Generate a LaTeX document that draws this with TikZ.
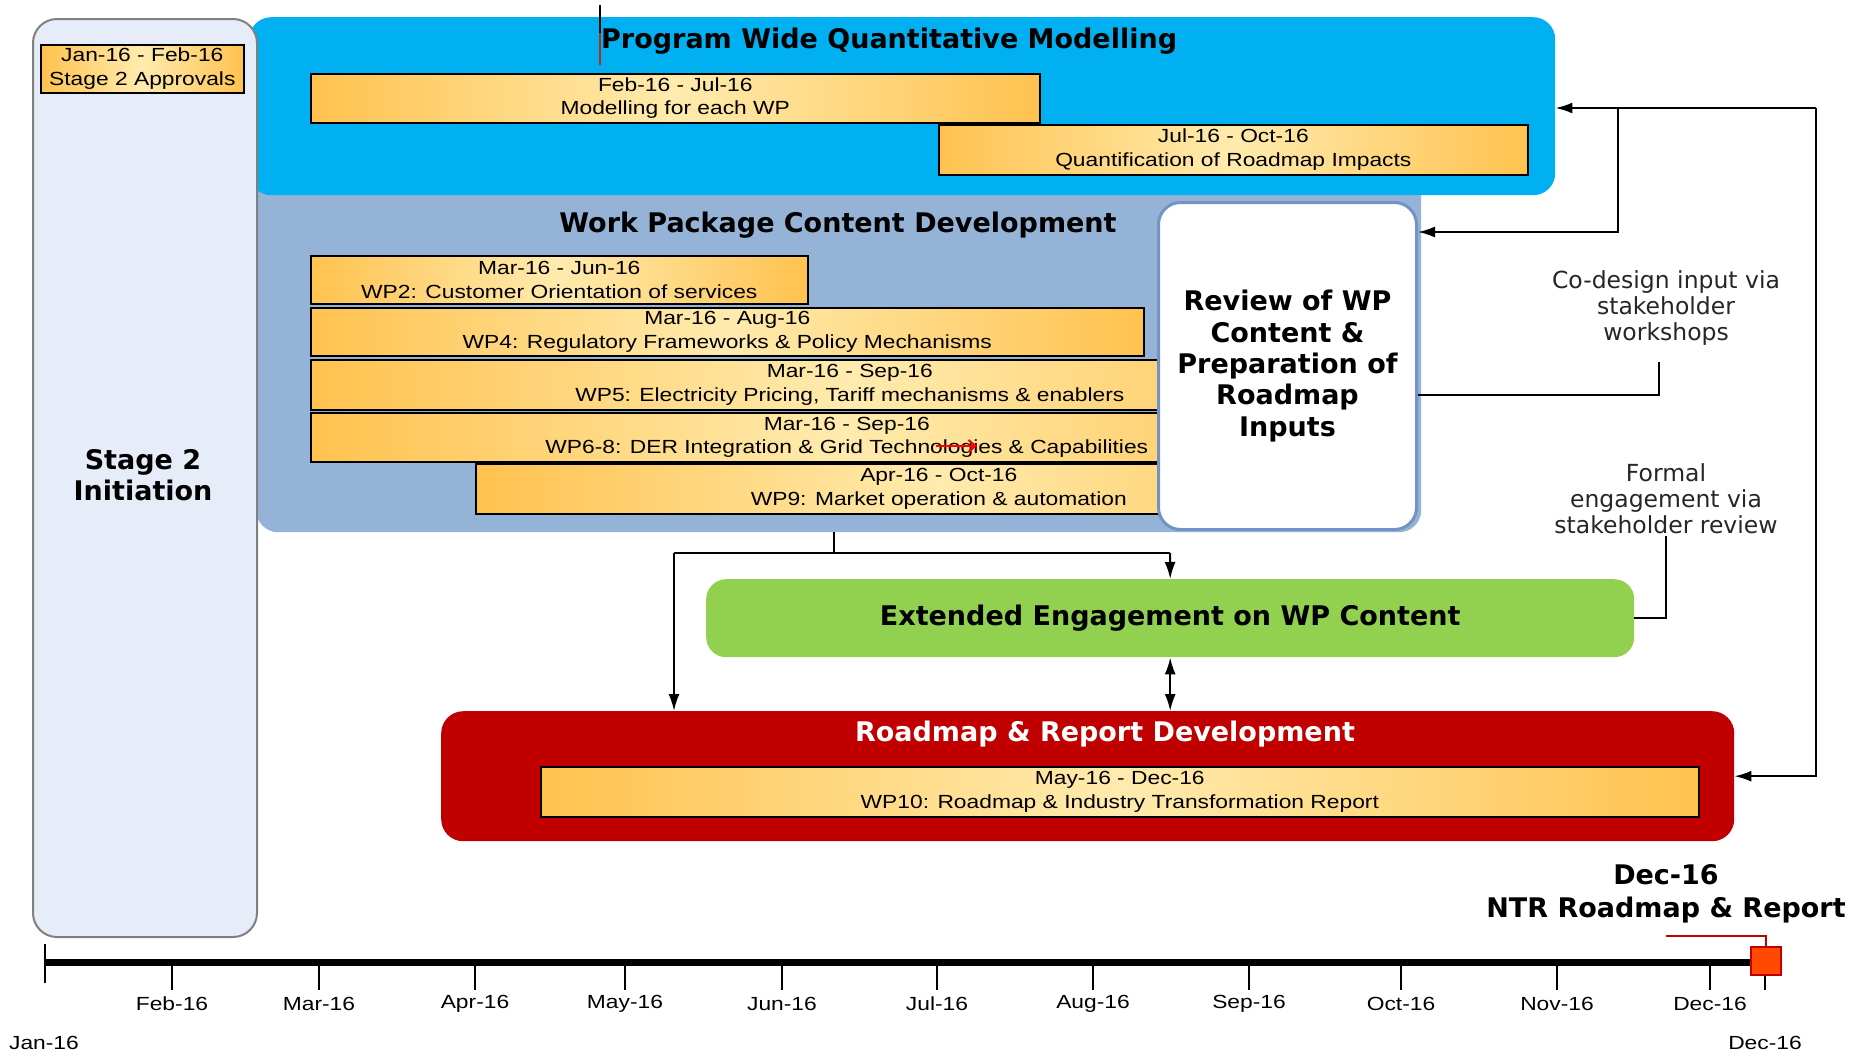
\documentclass[tikz,border=0pt]{standalone}
\usepackage{fontspec}
\setmainfont{Liberation Sans}
\newfontfamily\barfnt{Liberation Sans}[FakeStretch=1.2]
\newfontfamily\ttlfnt{DejaVu Sans}
\usetikzlibrary{arrows.meta}
\definecolor{stagebg}{HTML}{E6EDF8}
\definecolor{stageln}{HTML}{808080}
\definecolor{quantbl}{HTML}{00B0F0}
\definecolor{wpbl}{HTML}{95B3D7}
\definecolor{revln}{HTML}{7393C4}
\definecolor{engreen}{HTML}{92D050}
\definecolor{rmred}{HTML}{C00000}
\definecolor{barEdge}{HTML}{FFC24F}
\definecolor{barMid}{HTML}{FFEBAE}
\definecolor{msfill}{HTML}{FF4A00}
\definecolor{msline}{HTML}{C00000}
\definecolor{markred}{HTML}{B03020}
\tikzset{
  ganttbar/.style={draw=black, line width=1.6pt, left color=barEdge, right color=barEdge, middle color=barMid, inner sep=0pt, align=center, anchor=north west, font=\barfnt\fontsize{19}{23.5}\selectfont},
  panel/.style={rounded corners=22pt, inner sep=0pt, anchor=north west},
  ttl/.style={font=\ttlfnt\bfseries\fontsize{27}{31.4}\selectfont, align=center, inner sep=0pt},
  note/.style={font=\ttlfnt\fontsize{23.5}{26}\selectfont, align=center, inner sep=2pt, text=black!85},
  conn/.style={line width=2pt, draw=black},
  tip/.style={-{Latex[length=17pt,width=11pt]}},
  month/.style={font=\barfnt\fontsize{19}{22}\selectfont, inner sep=0pt},
  tickln/.style={line width=1.3pt},
}
\begin{document}
\begin{tikzpicture}[x=1pt,y=-1pt]
\useasboundingbox (0,0) rectangle (1857,1055);
\fill[white] (0,0) rectangle (1857,1055);
% panels
\node[panel, fill=wpbl, minimum width=1165pt, minimum height=382pt] (wpbox) at (256,150) {};
\node[panel, fill=quantbl, minimum width=1306pt, minimum height=178pt] (quant) at (249,17) {};
\node[panel, fill=stagebg, draw=stageln, line width=2pt, rounded corners=24pt, minimum width=224pt, minimum height=918pt] (stage) at (32,18) {};
% stage
\node[ganttbar, minimum width=203pt, minimum height=48pt] (appr) at (40,44) {Jan-16 - Feb-16\\Stage 2 Approvals};
\node[ttl] (stagettl) at (143,475) {Stage 2\\Initiation};
% quant
\draw[line width=1.5pt] (600,5) -- (600,33);
\draw[markred, line width=1.5pt] (600,33) -- (600,65);
\node[ttl, anchor=west] (qtitle) at (601,41) {Program Wide Quantitative Modelling};
\node[ganttbar, minimum width=729pt, minimum height=49pt] (b1) at (310,73) {Feb-16 - Jul-16\\Modelling for each WP};
\node[ganttbar, minimum width=589pt, minimum height=50pt] (b2) at (938,124) {Jul-16 - Oct-16\\Quantification of Roadmap Impacts};
% WP
\node[ttl] (wptitle) at (838,225) {Work Package Content Development};
\node[ganttbar, minimum width=497pt, minimum height=48pt] (wp2) at (310,255) {Mar-16 - Jun-16\\WP2: Customer Orientation of services};
\node[ganttbar, minimum width=833pt, minimum height=48pt] (wp4) at (310,307) {Mar-16 - Aug-16\\WP4: Regulatory Frameworks \& Policy Mechanisms};
\node[ganttbar, minimum width=1078pt, minimum height=50pt] (wp5) at (310,359) {Mar-16 - Sep-16\\WP5: Electricity Pricing, Tariff mechanisms \& enablers};
\node[ganttbar, minimum width=1072pt, minimum height=49pt] (wp68) at (310,412) {Mar-16 - Sep-16\\WP6-8: DER Integration \& Grid Technologies \& Capabilities};
\node[ganttbar, minimum width=926pt, minimum height=50pt] (wp9) at (475,463) {Apr-16 - Oct-16\\WP9: Market operation \& automation};
\draw[red, line width=2pt, -{Straight Barb[length=7pt,width=12pt]}] (936,446) -- (977,446);
\node[panel, ttl, draw=revln, fill=white, line width=3pt, minimum width=258pt, minimum height=327pt] (review) at (1157,201) {Review of WP\\Content \&\\Preparation of\\Roadmap\\Inputs};
% engagement and roadmap
\node[panel, ttl, fill=engreen, rounded corners=20pt, minimum width=928pt, minimum height=78pt] (engage) at (706,579) {Extended Engagement on WP Content};
\node[panel, fill=rmred, minimum width=1293pt, minimum height=130pt] (roadmap) at (441,711) {};
\node[ttl, text=white] (rmtitle) at (1105,734) {Roadmap \& Report Development};
\node[ganttbar, minimum width=1158pt, minimum height=50pt] (wp10) at (540,766) {May-16 - Dec-16\\WP10: Roadmap \& Industry Transformation Report};
% notes
\node[note] (codesign) at (1666,308) {Co-design input via\\stakeholder\\workshops};
\node[note] (formal) at (1666,499) {Formal\\engagement via\\stakeholder review};
% connectors
\coordinate (wpjoin) at (834,553);
\coordinate (jL) at (674,553);
\coordinate (jR) at (1170,553);
\draw[conn] (wpbox.south -| wpjoin) -- (wpjoin);
\draw[conn] (jL) -- (jR);
\draw[conn, tip] (jL) -- (jL |- roadmap.north);
\draw[conn, tip] (jR) -- (engage.north);
\draw[conn, {Latex[length=17pt,width=11pt]}-{Latex[length=17pt,width=11pt]}] (engage.south) -- (engage.south |- roadmap.north);
\coordinate (busTop) at (1816,108);
\coordinate (busBr) at (1618,108);
\draw[conn, tip] (busTop) |- (roadmap.east);
\draw[conn, tip] (busTop) -- (busTop -| quant.east);
\draw[conn, tip] (busBr) |- ([yshift=134pt]review.east);
\coordinate (cdLine) at (1659,362);
\draw[conn] (cdLine) |- ([yshift=-29pt]review.east);
\draw[conn] (formal.south) |- (engage.east);
% timeline
\coordinate (tl0) at (45,962);
\coordinate (tl1) at (1753,962);
\draw[line width=7pt] (tl0) -- (tl1);
\draw[tickln] (45,944) -- (45,983);
\node[month] (mjan) at (44,1043) {Jan-16};
\foreach \x/\m [count=\i] in {172/Feb-16, 319/Mar-16, 475/Apr-16, 625/May-16, 782/Jun-16, 937/Jul-16, 1093/Aug-16, 1249/Sep-16, 1401/Oct-16, 1557/Nov-16, 1710/Dec-16} {
  \draw[tickln] (\x,962) -- (\x,990);
  \node[month] (mo\i) at (\x,1004) {\m};
}
\draw[tickln] (1765,962) -- (1765,990);
\node[month] (mdec) at (1765,1043) {Dec-16};
\node[draw=msline, fill=msfill, line width=1.5pt, minimum width=30pt, minimum height=28pt, inner sep=0pt] (ms) at (1766,961) {};
\coordinate (msl) at (1666,936);
\draw[msline, line width=1.5pt] (msl) -| (ms.north);
\node[ttl, font=\ttlfnt\bfseries\fontsize{27}{33}\selectfont] (mstitle) at (1666,894) {Dec-16\\NTR Roadmap \& Report};
\end{tikzpicture}
\end{document}
